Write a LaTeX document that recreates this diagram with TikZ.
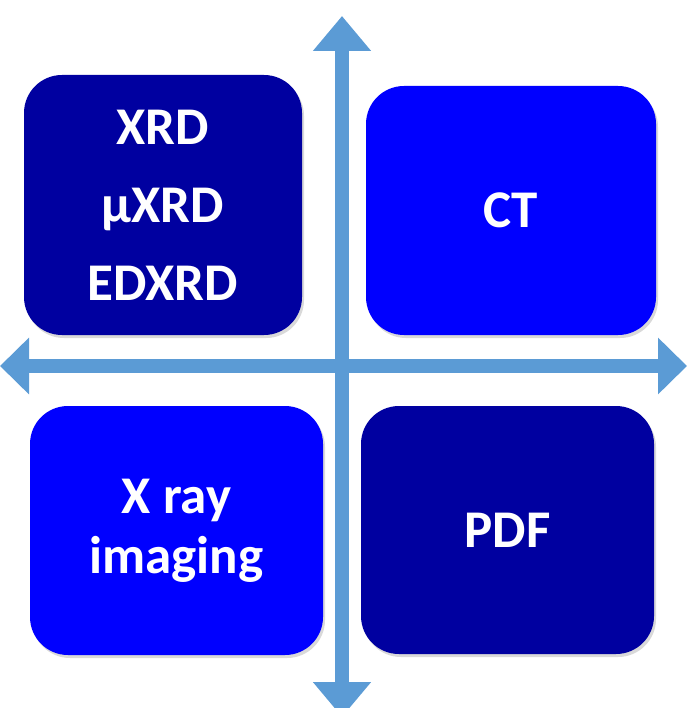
\documentclass[tikz,border=0pt]{standalone}
\usepackage{fontspec}
\setmainfont{Carlito}
\usetikzlibrary{arrows.meta,shadows}
\definecolor{axisblue}{RGB}{91,155,213}
\definecolor{darkbox}{RGB}{0,0,160}
\definecolor{lightbox}{RGB}{0,0,255}
\tikzset{
	quad/.style={rounded corners=38pt, inner sep=0pt, align=center, text=white,
		font=\bfseries\fontsize{53}{78}\selectfont,
		drop shadow={shadow xshift=2pt,shadow yshift=-3pt,opacity=0.3}},
	axis/.style={line width=14pt, axisblue},
}
\begin{document}
\begin{tikzpicture}[x=1pt,y=-1pt]
\useasboundingbox (0,0) rectangle (687,708);
% axes
\coordinate (top) at (342,16);
\coordinate (bottom) at (342,717);
\coordinate (left) at (0,366);
\coordinate (right) at (687,366);
\draw[axis, {Triangle[width=56pt,length=35pt]}-{Triangle[width=56pt,length=35pt]}] (top) -- (bottom);
\draw[axis, {Triangle[width=55pt,length=29pt]}-{Triangle[width=55pt,length=29pt]}] (left) -- (right);
% quadrants
\node[quad, fill=darkbox, minimum width=278pt, minimum height=260pt] (xrd) at (163,205) {XRD\\µXRD\\EDXRD};
\node[quad, fill=lightbox, minimum width=290pt, minimum height=249pt] (ct) at (511,210.5) {CT};
\node[quad, fill=lightbox, minimum width=293pt, minimum height=249pt, font=\bfseries\fontsize{53}{60}\selectfont] (img) at (176.5,530.5) {X ray\\imaging};
\node[quad, fill=darkbox, minimum width=293pt, minimum height=248pt] (pdf) at (507.5,530) {PDF};
\end{tikzpicture}
\end{document}
